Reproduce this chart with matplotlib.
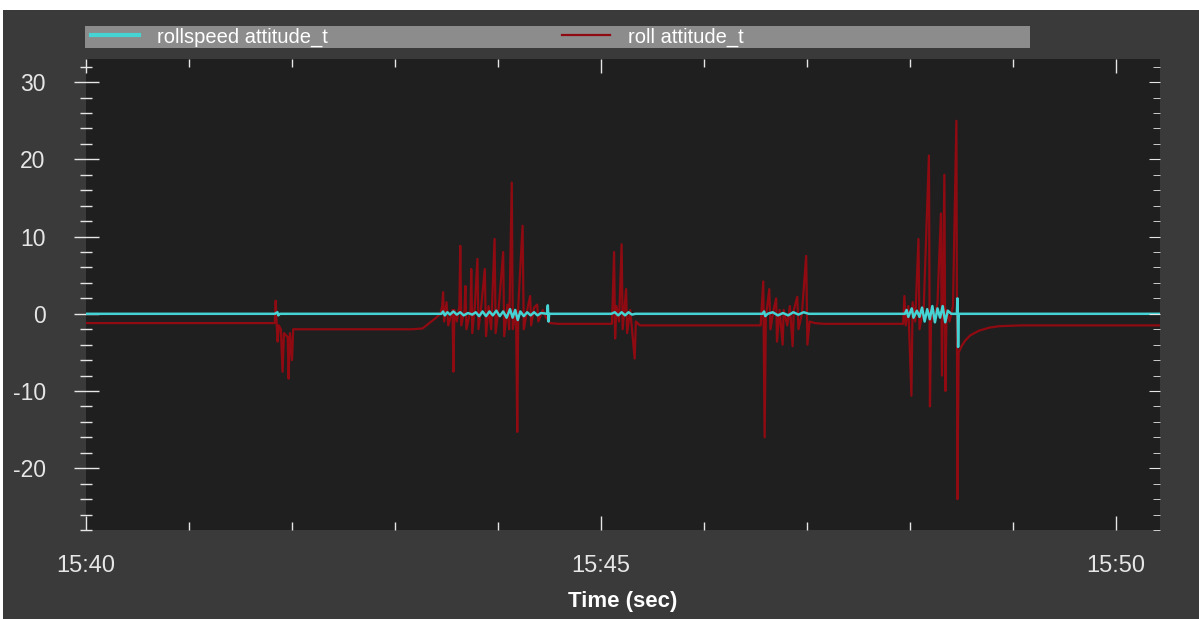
import pandas as pd
import matplotlib
matplotlib.use('Agg')
import matplotlib.pyplot as plt
import matplotlib.dates as mdates
from matplotlib.patches import Rectangle
from matplotlib.ticker import MultipleLocator

plt.rcParams['font.family'] = ['Liberation Sans', 'DejaVu Sans']
plt.rcParams['axes.unicode_minus'] = False

start = pd.Timestamp('2020-01-01 15:40:00')

# roll attitude_t (deg), seconds after 15:40:00
roll_t = [0, 100, 110.0, 110.5, 111.0, 111.6, 112.3, 113.5, 114.5, 115.3, 117.5, 118.0,
          118.8, 120.0, 120.7, 125, 190, 196, 200, 204,
          206.4, 207.5, 208.0, 208.6, 210, 211, 213.5, 214.0, 214.6, 216, 217.5, 218.0,
          218.6, 220.5, 221.0, 221.6, 224.0, 224.4, 225, 226.5, 228.0, 228.6, 230, 232.3,
          233, 234.5, 236, 238.0, 238.6, 240.5, 243.0, 243.6, 245.5, 246.5, 248.0, 248.6,
          250.5, 251.2, 251.8, 254.3, 255.0, 257, 258.7, 259.3, 261, 262.8, 263.5, 266,
          268, 270.3, 275, 300,
          306.4, 307.6, 308.2, 309, 310.5, 312.0, 312.6, 314.6, 315.2, 317, 319.6, 320.3,
          322.7, 330,
          393.0, 394.5, 395.3, 396.0, 398.0, 398.7, 400.5, 402.0, 402.5, 404, 405.8, 406.4,
          408.5, 410, 411.6, 412.3, 414.3, 415, 417, 419.5, 420.2, 421.5, 424.4, 430,
          476.0, 476.7, 477.5, 479, 480.8, 481.5, 483, 484.9, 485.5, 488, 491.0, 491.6,
          492.3, 494, 496, 498.0, 498.6, 500.0, 500.6, 501.3, 503, 505, 507.0, 507.6,
          508.3, 510, 512, 515, 520, 526, 532, 545, 625.6]
roll_v = [-1.2, -1.2, -1.2, 1.7, -1.0, -3.6, -1.5, -2.0, -7.5, -2.5, -3.0, -8.4,
          -2.5, -6.0, -2.0, -2.0, -2.0, -1.9, -1.2, -0.5,
          0.0, 1.0, 2.8, -1.0, 1.5, -1.5, 0.5, -7.5, 0.5, -1.0, 1.0, 8.8,
          -1.5, 0.5, 3.6, -2.0, 0.5, 5.8, -2.5, 1.0, 7.1, -2.0, 0.5, 5.8,
          -2.9, 1.0, -2.0, 9.7, -2.5, 1.0, 8.0, -2.9, 1.2, -2.0, 17.0, -2.0,
          0.5, -15.3, 1.0, 11.4, -2.0, 0.5, 2.3, -1.5, 0.8, 1.2, -1.0, 0.5,
          -0.5, -1.2, -1.3, -1.3,
          -1.3, 8.0, -3.2, 1.0, -1.0, 9.0, -2.0, 3.2, -2.5, 0.5, -5.8, -1.0,
          -1.5, -1.5,
          -1.5, 4.2, -16.0, -0.5, 3.2, -2.0, 0.5, 2.0, -3.6, 0.5, -4.0, 0.5,
          -1.5, 1.0, -4.2, 0.5, 2.2, -2.0, 0.0, 7.5, -4.0, -1.0, -1.2, -1.3,
          -1.3, 2.3, -1.5, 1.0, -10.6, 1.5, -1.0, 9.7, -2.0, 1.0, 20.5, -12.0,
          0.5, -1.0, 1.5, 13.0, -8.0, 18.0, -10.0, 0.5, -1.0, 1.0, 25.0, -24.0,
          -5.0, -4.2, -3.5, -2.8, -2.2, -1.8, -1.6, -1.5, -1.5]

# rollspeed attitude_t (rad/s)
rate_t = [0, 110, 111.5, 112, 113,
          207, 208, 209, 210.5, 212, 214, 216, 218, 220, 222.5, 225, 227, 229, 231,
          233, 235, 237, 239, 241, 243, 245, 247, 248.5, 250, 251.5, 253, 255, 257,
          259, 261, 263, 265, 268.6, 269.0, 269.4, 269.8,
          306, 308, 310, 312, 314, 316, 318, 320,
          394, 395, 395.7, 397, 400, 403, 406, 409, 412, 415, 418, 421,
          477, 478, 479, 481, 482, 484, 485.5, 487, 488.5, 490, 491.5, 493, 494.5,
          496, 497.5, 499, 500.5, 502, 504, 507.3, 507.6, 508.0, 508.4, 625.6]
rate_v = [0, 0, 0.2, -0.2, 0,
          0, 0.3, -0.2, 0.2, -0.1, 0.3, -0.1, 0.2, -0.2, 0.1, -0.1, 0.2, -0.3, 0.3,
          -0.3, 0.3, -0.2, 0.4, -0.3, 0.3, -0.5, 0.6, -0.5, 0.5, -0.8, 0.3, -0.3, 0.2,
          -0.2, 0.2, -0.2, 0.1, 0, 1.1, -1.0, 0,
          0, 0.2, -0.2, 0.2, -0.2, 0.2, -0.1, 0,
          0, 0.3, -0.3, 0, 0.2, -0.2, 0.1, -0.2, 0.2, -0.1, 0.2, 0,
          0, 0.5, -0.4, 0.7, -0.5, 0.4, -0.4, 0.8, -1.0, 0.6, -0.7, 1.0, -1.1,
          0.7, -0.5, 1.0, -1.1, 0.4, 0, 0, 2.0, -4.3, 0.0, 0]

roll_time = start + pd.to_timedelta(roll_t, unit='s')
rate_time = start + pd.to_timedelta(rate_t, unit='s')

bg = '#3a3a3a'
fg = '#e6e6e6'
cyan = '#45d3d3'
red = '#900a12'

fig = plt.figure(figsize=(11.99, 6.19), dpi=100, facecolor='white')
fig.patches.append(Rectangle((3 / 1199, 0), 1, 1 - 10 / 619, transform=fig.transFigure,
                             facecolor=bg, edgecolor='none', zorder=-10))

ax = fig.add_axes([86 / 1199, 1 - 530 / 619, (1160 - 86) / 1199, (530 - 59) / 619])
ax.set_facecolor('#1f1f20')
for s in ax.spines.values():
    s.set_visible(False)

ax.plot(roll_time, roll_v, color=red, lw=1.6, label='roll attitude_t', zorder=2)
ax.plot(rate_time, rate_v, color=cyan, lw=1.8, label='rollspeed attitude_t', zorder=3)

ax.set_xlim(start, start + pd.Timedelta(seconds=625.6))
ax.set_ylim(-28, 33)

ax.xaxis.set_major_locator(mdates.MinuteLocator(byminute=range(0, 60, 5)))
ax.xaxis.set_minor_locator(mdates.MinuteLocator())
ax.xaxis.set_major_formatter(mdates.DateFormatter('%H:%M'))
ax.yaxis.set_major_locator(MultipleLocator(10))
ax.yaxis.set_minor_locator(MultipleLocator(2))

ax.tick_params(axis='x', which='both', direction='in', top=True, colors=fg,
               labelsize=17, pad=18)
ax.tick_params(axis='x', which='major', length=10, width=1)
ax.tick_params(axis='x', which='minor', length=6, width=1)
ax.tick_params(axis='y', which='both', direction='inout', colors=fg, labelsize=16.5)
ax.tick_params(axis='y', which='major', length=18, width=1, pad=20)
ax.tick_params(axis='y', which='minor', length=8, width=1)
ax.set_xlabel('Time (sec)', color='white', fontsize=16, fontweight='bold', labelpad=10)

# inward ticks along the right edge
ax_r = ax.twinx()
ax_r.set_ylim(ax.get_ylim())
for s in ax_r.spines.values():
    s.set_visible(False)
ax_r.yaxis.set_major_locator(MultipleLocator(10))
ax_r.yaxis.set_minor_locator(MultipleLocator(2))
ax_r.tick_params(axis='y', which='both', direction='in', colors=fg, labelright=False)
ax_r.tick_params(axis='y', which='major', length=8)
ax_r.tick_params(axis='y', which='minor', length=5)

# legend strip above the plot
fig.patches.append(Rectangle((85 / 1199, 1 - 48 / 619), 945 / 1199, 22 / 619,
                             transform=fig.transFigure, facecolor='#8c8c8c',
                             edgecolor='none', zorder=1))
handles, labels = ax.get_legend_handles_labels()
leg = fig.legend(handles[::-1], labels[::-1], loc='center left', ncol=2,
                 bbox_to_anchor=(91 / 1199, 1 - 37 / 619), bbox_transform=fig.transFigure,
                 borderaxespad=0, borderpad=0, frameon=False, fontsize=14.5,
                 handlelength=2.4, handletextpad=0.9, columnspacing=11.6)
for t in leg.get_texts():
    t.set_color('white')
leg.get_lines()[0].set_linewidth(3)

fig.savefig('out.png', dpi=100, facecolor=fig.get_facecolor())
